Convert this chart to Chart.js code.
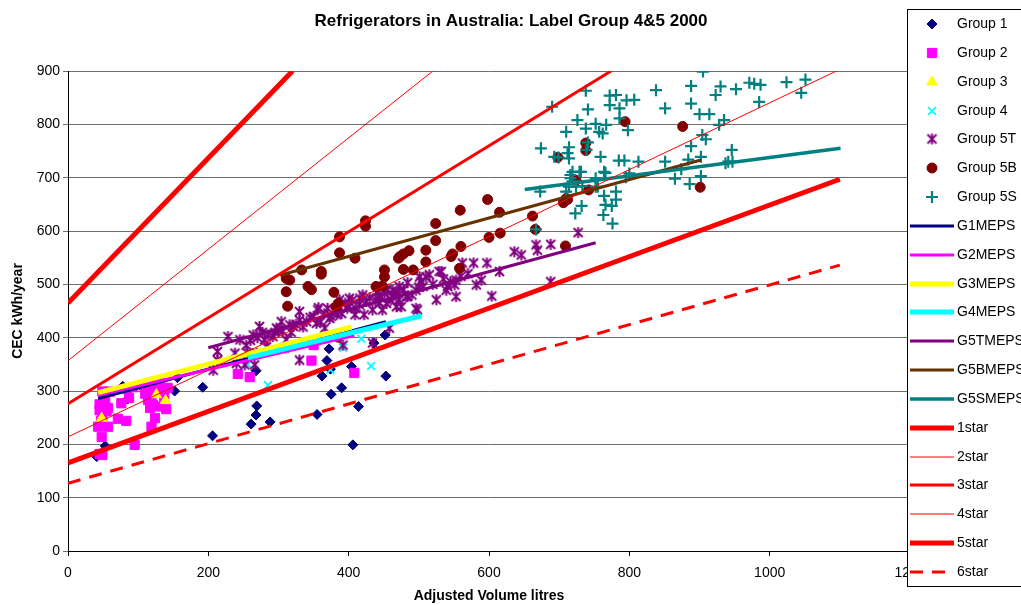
<!DOCTYPE html>
<html>
<head>
<meta charset="utf-8">
<title>Refrigerators in Australia: Label Group 4&amp;5 2000</title>
<script src="https://cdn.jsdelivr.net/npm/chart.js@4.4.1/dist/chart.umd.min.js"></script>
<style>
  html, body { margin: 0; padding: 0; background: #fff; overflow: hidden; }
  #wrap { width: 1021px; height: 605px; }
</style>
</head>
<body>
<div id="wrap"><canvas id="chart" width="1021" height="605"></canvas></div>
<script>
// ---- Axis ticks -------------------------------------------------------
const xTicks = { min: 0, max: 1200, step: 200 };
const yTicks = { min: 0, max: 900, step: 100 };

// ---- Measured models: [adjusted volume (litres), CEC (kWh/year)] ------
const group1 = [[41,177],[48,280],[53,197],[78,309],[85,285],[105,308],[152,300],[156,325],[192,307],
  [206,216],[261,238],[268,255],[269,272],[268,338],[288,242],[355,256],[362,328],[369,357],[372,379],
  [374,341],[375,294],[390,306],[404,346],[406,199],[414,271],[436,390],[452,405],[453,328]];

const group2 = [[43,233],[45,182],[45,264],[45,275],[47,244],[48,214],[49,180],[49,252],[49,299],[52,290],
  [53,280],[55,262],[57,233],[57,268],[60,299],[71,248],[76,277],[83,244],[84,304],[87,287],[93,307],
  [95,199],[110,295],[112,311],[114,283],[117,268],[117,302],[119,233],[119,289],[121,274],[124,249],
  [125,310],[128,271],[131,315],[135,302],[137,290],[140,266],[142,306],[242,332],[259,326],[347,357],
  [350,386],[408,334]];

const group3 = [[48,249],[126,293],[139,282]];

const group4 = [[256,350],[285,311],[374,340],[392,381],[418,398],[432,347]];

const group5T = [[207,339],[213,358],[213,374],[228,402],[238,371],[240,352],[245,396],[252,349],[254,386],
  [256,371],[260,395],[264,405],[266,349],[269,371],[270,400],[273,421],[277,410],[280,396],[283,383],
  [285,405],[292,402],[295,410],[297,418],[300,415],[304,430],[306,412],[309,381],[311,396],[316,424],
  [318,410],[321,421],[325,425],[330,449],[330,433],[330,358],[335,420],[340,430],[345,438],[350,440],
  [354,427],[356,452],[357,456],[360,430],[365,445],[366,418],[370,455],[373,436],[375,440],[380,450],
  [383,443],[385,460],[387,471],[390,445],[392,386],[395,465],[398,455],[400,460],[401,474],[405,470],
  [409,443],[410,455],[415,462],[416,474],[420,480],[422,443],[425,468],[430,475],[434,452],[434,390],
  [438,470],[440,485],[444,465],[444,480],[445,475],[448,452],[451,484],[453,489],[454,464],[455,490],
  [458,418],[460,470],[463,477],[463,489],[465,480],[468,458],[470,485],[472,471],[472,496],[475,458],
  [478,490],[482,477],[484,477],[484,503],[490,480],[496,489],[496,455],[498,452],[500,495],[501,514],
  [503,505],[506,496],[510,514],[515,518],[520,500],[525,471],[529,524],[532,524],[535,510],[539,489],
  [541,496],[545,505],[551,499],[553,477],[553,508],[560,515],[562,540],[570,520],[578,540],[582,499],
  [589,508],[597,540],[604,478],[615,524],[636,561],[646,555],[667,574],[669,564],[688,575],[688,505],
  [727,597]];

const group5B = [[311,511],[311,486],[313,459],[316,508],[333,527],[342,496],[347,490],[361,524],[361,519],
  [379,485],[382,458],[385,464],[385,401],[387,589],[387,559],[409,549],[424,619],[424,609],[439,496],
  [448,497],[451,527],[451,514],[471,549],[473,552],[478,557],[478,528],[486,563],[492,527],[510,564],
  [510,542],[524,614],[524,582],[546,552],[548,557],[558,530],[559,639],[560,571],[598,659],[600,588],
  [615,635],[616,596],[662,628],[666,603],[698,738],[706,653],[709,572],[710,661],[712,659],[724,695],
  [738,765],[738,751],[742,677],[794,805],[876,796],[901,682]];

const group5S = [[667,603],[673,674],[674,755],[690,833],[693,739],[699,738],[710,674],[710,786],[712,746],
  [714,683],[714,736],[714,757],[716,699],[716,705],[719,693],[719,711],[723,633],[724,683],[726,808],
  [729,711],[731,711],[732,647],[733,684],[738,792],[738,863],[739,752],[741,766],[741,828],[752,683],
  [752,699],[752,801],[755,683],[757,786],[759,739],[762,783],[763,630],[764,666],[764,711],[766,649],
  [766,709],[767,799],[772,836],[772,854],[775,647],[776,614],[781,659],[781,674],[781,855],[785,732],
  [786,811],[786,830],[793,732],[795,701],[796,845],[798,789],[800,708],[807,846],[813,730],[838,864],
  [851,730],[851,830],[865,698],[874,716],[884,734],[886,688],[888,759],[888,839],[888,872],[900,819],
  [902,703],[902,739],[904,780],[905,899],[909,772],[914,819],[923,855],[928,799],[930,871],[935,808],
  [937,727],[941,730],[946,752],[947,730],[952,866],[971,878],[978,876],[985,842],[987,874],[1024,879],
  [1045,859],[1051,884]];

// ---- MEPS lines per group (end points) --------------------------------
const g1Meps  = [[43,286],[453,430]];
const g2Meps  = [[43,292],[408,404]];
const g3Meps  = [[43,297],[404,420]];
const g4Meps  = [[256,362],[504,441]];
const g5tMeps = [[200,381],[752,578]];
const g5bMeps = [[302,517],[902,733]];
const g5sMeps = [[651,678],[1101,755]];

// ---- Star rating lines (end points) -----------------------------------
const star1 = [[0,465],[320,900]];
const star2 = [[0,357],[520,900]];
const star3 = [[0,276],[774,900]];
const star4 = [[0,214],[1100,903]];
const star5 = [[0,165],[1100,697]];
const star6 = [[0,127],[1100,536]];

const FONT = "'Liberation Sans', Arial, Helvetica, sans-serif";
const pts = arr => arr.map(([x, y]) => ({ x, y }));

// Six-spoke star marker (X with a vertical bar) used for Group 5T
function starMarker(color) {
  const c = document.createElement('canvas');
  c.width = 13; c.height = 13;
  const g = c.getContext('2d');
  g.strokeStyle = color;
  g.lineWidth = 2;
  g.beginPath();
  g.moveTo(2, 2); g.lineTo(11, 11);
  g.moveTo(11, 2); g.lineTo(2, 11);
  g.moveTo(6.5, 1); g.lineTo(6.5, 12);
  g.stroke();
  return c;
}

function markers(label, data, color, style, radius, bw) {
  return {
    label, data: pts(data), showLine: false,
    pointStyle: style, pointRadius: radius, pointHoverRadius: radius,
    pointBackgroundColor: color, pointBorderColor: color, pointBorderWidth: bw,
    backgroundColor: color, borderColor: color
  };
}
function line(label, data, color, width, dash) {
  return {
    label, data: pts(data), showLine: true, pointRadius: 0, pointHoverRadius: 0,
    borderColor: color, backgroundColor: color, borderWidth: width,
    borderDash: dash || [], fill: false, tension: 0
  };
}

const datasets = [
  markers('Group 1', group1, '#000080', 'rectRot', 5, 1),
  markers('Group 2', group2, '#FF00FF', 'rect', 6.5, 1),
  markers('Group 3', group3, '#FFFF00', 'triangle', 6, 1),
  markers('Group 4', group4, '#00FFFF', 'crossRot', 5.5, 1.8),
  markers('Group 5T', group5T, '#800080', starMarker('#800080'), 6, 1),
  markers('Group 5B', group5B, '#800000', 'circle', 5, 1),
  markers('Group 5S', group5S, '#008080', 'cross', 6, 2.2),
  line('G1MEPS', g1Meps, '#000080', 3),
  line('G2MEPS', g2Meps, '#FF00FF', 3),
  line('G3MEPS', g3Meps, '#FFFF00', 5),
  line('G4MEPS', g4Meps, '#00FFFF', 5),
  line('G5TMEPS', g5tMeps, '#800080', 3),
  line('G5BMEPS', g5bMeps, '#663300', 3),
  line('G5SMEPS', g5sMeps, '#008080', 3.5),
  line('1star', star1, '#FF0000', 5),
  line('2star', star2, '#FF0000', 1),
  line('3star', star3, '#FF0000', 3),
  line('4star', star4, '#FF0000', 1),
  line('5star', star5, '#FF0000', 5),
  line('6star', star6, '#FF0000', 3, [13, 9])
];
// later series paint over earlier ones
datasets.forEach((d, i) => { d.order = datasets.length - i; });

// Chart title
const titlePlugin = {
  id: 'topTitle',
  afterDraw(chart) {
    const ctx = chart.ctx;
    ctx.save();
    ctx.fillStyle = '#000';
    ctx.font = 'bold 17px ' + FONT;
    ctx.textAlign = 'center';
    ctx.textBaseline = 'alphabetic';
    ctx.fillText('Refrigerators in Australia: Label Group 4&5 2000', 511, 26);
    ctx.restore();
  }
};

// Boxed legend on the right, drawn over the plot
const boxLegend = {
  id: 'boxLegend',
  afterDraw(chart) {
    const ctx = chart.ctx;
    const left = 907, top = 9, h = 577, rowTop = 24, rowGap = 28.84;
    ctx.save();
    ctx.fillStyle = '#fff';
    ctx.fillRect(left, top, 200, h);
    ctx.strokeStyle = '#000';
    ctx.lineWidth = 1;
    ctx.strokeRect(left + 0.5, top + 0.5, 200, h);
    ctx.font = '14px ' + FONT;
    ctx.textBaseline = 'middle';
    chart.data.datasets.forEach((ds, i) => {
      const y = Math.round(rowTop + i * rowGap);
      if (ds.showLine) {
        ctx.save();
        ctx.strokeStyle = ds.borderColor;
        ctx.lineWidth = ds.borderWidth;
        ctx.setLineDash(ds.borderDash || []);
        ctx.beginPath();
        ctx.moveTo(910, y);
        ctx.lineTo(954, y);
        ctx.stroke();
        ctx.restore();
      } else {
        ctx.save();
        ctx.fillStyle = ds.pointBackgroundColor;
        ctx.strokeStyle = ds.pointBorderColor;
        ctx.lineWidth = ds.pointBorderWidth;
        Chart.helpers.drawPoint(ctx, {
          pointStyle: ds.pointStyle, radius: ds.pointRadius,
          borderWidth: ds.pointBorderWidth, rotation: 0
        }, 932, y);
        ctx.restore();
      }
      ctx.fillStyle = '#000';
      ctx.textAlign = 'left';
      ctx.fillText(ds.label, 957, y);
    });
    ctx.restore();
  }
};

new Chart(document.getElementById('chart'), {
  type: 'scatter',
  data: { datasets },
  plugins: [titlePlugin, boxLegend],
  options: {
    responsive: false,
    animation: false,
    devicePixelRatio: 1,
    events: [],
    layout: { padding: { top: 71, right: 111, bottom: 0, left: 0 } },
    plugins: { legend: { display: false }, tooltip: { enabled: false }, title: { display: false } },
    scales: {
      x: {
        type: 'linear', position: 'bottom',
        min: xTicks.min, max: xTicks.max,
        afterFit(s) { s.height = 54; },
        ticks: { stepSize: xTicks.step, color: '#000', padding: 9, font: { family: FONT, size: 14 },
                 callback: v => String(v) },
        grid: { display: true, drawOnChartArea: false, drawTicks: true, tickLength: 5, color: '#000' },
        border: { display: true, color: '#000', width: 1 },
        title: { display: true, text: 'Adjusted Volume litres', color: '#000',
                 font: { family: FONT, size: 14, weight: 'bold' }, padding: { top: 0, bottom: 0 } }
      },
      y: {
        type: 'linear', position: 'left',
        min: yTicks.min, max: yTicks.max,
        afterFit(s) { s.width = 68; },
        ticks: { stepSize: yTicks.step, color: '#000', padding: 3, font: { family: FONT, size: 14 },
                 callback: v => String(v) },
        grid: { display: true, drawTicks: true, tickLength: 5, color: '#6e6e6e', lineWidth: 1 },
        border: { display: true, color: '#000', width: 1 },
        title: { display: true, text: 'CEC kWh/year', color: '#000',
                 font: { family: FONT, size: 14, weight: 'bold' }, padding: { top: 10, bottom: 0 } }
      }
    }
  }
});
</script>
</body>
</html>
